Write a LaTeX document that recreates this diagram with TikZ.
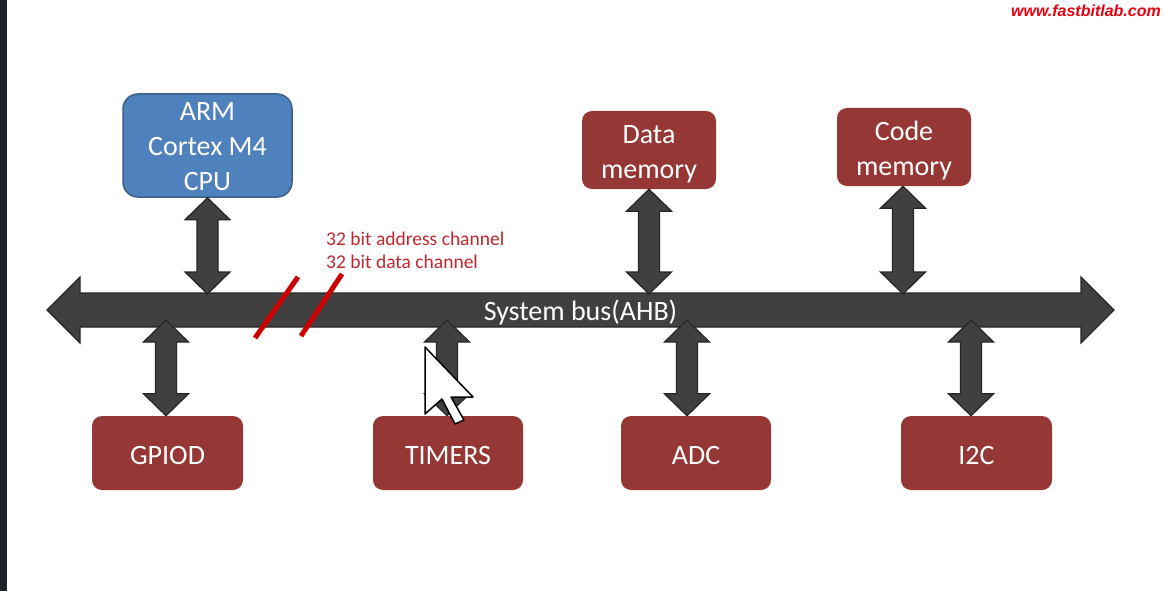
\documentclass[tikz,border=0pt]{standalone}
\usepackage{fontspec}
\setmainfont{Carlito}
\newfontfamily\wmfont{Liberation Sans}
\usetikzlibrary{calc}
\definecolor{boxred}{HTML}{953735}
\definecolor{cpublue}{HTML}{4F81BD}
\definecolor{cpuedge}{HTML}{3A5F8C}
\definecolor{busgray}{HTML}{404040}
\definecolor{busedge}{HTML}{262626}
\definecolor{chanred}{HTML}{C0282E}
\definecolor{slashred}{HTML}{CC0000}
\definecolor{wmred}{HTML}{E8000F}
\definecolor{stripcol}{HTML}{1F2128}
\tikzset{
  boxtext/.style={text=white, font=\fontsize{28}{35}\selectfont, align=center, inner sep=0pt},
  redbox/.style={rectangle, rounded corners=10pt, fill=boxred, inner sep=0pt},
  cpubox/.style={rectangle, rounded corners=15pt, fill=cpublue, draw=cpuedge, line width=1.5pt, inner sep=0pt},
  busshape/.style={fill=busgray, draw=busedge, line width=1.2pt, line join=miter},
  slashline/.style={draw=slashred, line width=5pt},
  chantext/.style={text=chanred, font=\fontsize{19.5}{23}\selectfont, align=left, inner sep=0pt},
}
\newcommand{\dblarrow}[2]{%
  \path[busshape] let \p1=(#1), \p2=(#2) in
  (\x1,\y1) -- (\x1+22.5pt,\y1-22pt) -- (\x1+10.5pt,\y1-22pt) -- (\x1+10.5pt,\y2+22pt)
  -- (\x1+22.5pt,\y2+22pt) -- (\x1,\y2) -- (\x1-22.5pt,\y2+22pt) -- (\x1-10.5pt,\y2+22pt)
  -- (\x1-10.5pt,\y1-22pt) -- (\x1-22.5pt,\y1-22pt) -- cycle;}
\begin{document}
\begin{tikzpicture}[x=1pt,y=-1pt]
\useasboundingbox (0,0) rectangle (1164,591);
\fill[white] (0,0) rectangle (1164,591);
\fill[stripcol] (0,0) rectangle (7,591);

% system bus
\coordinate (busL) at (47,310);
\coordinate (busR) at (1114,310);
\path[busshape] (busL) -- (80,277) -- (80,293) -- (1081,293) -- (1081,277) -- (busR)
  -- (1081,343) -- (1081,327) -- (80,327) -- (80,343) -- cycle;
\coordinate (bustop) at (0,294);
\coordinate (busin) at (0,320);

% blocks
\node[cpubox, minimum width=169pt, minimum height=103pt] (cpu) at (207.5,145.5) {};
\node[redbox, minimum width=134pt, minimum height=78pt] (dmem) at (649,150) {};
\node[redbox, minimum width=134pt, minimum height=78pt] (cmem) at (904,147) {};
\node[redbox, minimum width=151pt, minimum height=74pt] (gpiod) at (167.5,453) {};
\node[redbox, minimum width=150pt, minimum height=74pt] (timers) at (448,453) {};
\node[redbox, minimum width=150pt, minimum height=74pt] (adc) at (696,453) {};
\node[redbox, minimum width=151pt, minimum height=74pt] (i2c) at (976.5,453) {};

\node[boxtext] (cputxt) at ([yshift=-1.5pt]cpu.center) {ARM\\Cortex M4\\CPU};
\node[boxtext] (dmemtxt) at ([yshift=-4pt]dmem.center) {Data\\memory};
\node[boxtext] (cmemtxt) at ([yshift=-4pt]cmem.center) {Code\\memory};
\node[boxtext] (gpiodtxt) at ([yshift=-3pt]gpiod.center) {GPIOD};
\node[boxtext] (timerstxt) at ([yshift=-3pt]timers.center) {TIMERS};
\node[boxtext] (adctxt) at ([yshift=-3pt]adc.center) {ADC};
\node[boxtext] (i2ctxt) at ([yshift=-3pt]i2c.center) {I2C};

\coordinate (gpiodA) at ([xshift=-1.5pt]gpiod.north);
\coordinate (timersA) at ([xshift=-1pt]timers.north);
\coordinate (adcA) at ([xshift=-9pt]adc.north);
\coordinate (i2cA) at ([xshift=-5.5pt]i2c.north);
\coordinate (cmemA) at ([xshift=-1pt]cmem.south);

% connectors
\dblarrow{cpu.south}{cpu.south |- bustop}
\dblarrow{dmem.south}{dmem.south |- bustop}
\dblarrow{cmemA}{cmemA |- bustop}
\dblarrow{gpiodA |- busin}{gpiodA}
\dblarrow{timersA |- busin}{timersA}
\dblarrow{adcA |- busin}{adcA}
\dblarrow{i2cA |- busin}{i2cA}

\node[text=white, font=\fontsize{28}{34}\selectfont, inner sep=0pt] (buslabel) at (580.5,313) {System bus(AHB)};

% bus width marks
\draw[slashline] (298,277) -- (255,338);
\draw[slashline] (342,274) -- (301,336);
\node[chantext, anchor=west] (chan) at (326,250) {32 bit address channel\\32 bit data channel};

% watermark
\node[anchor=east, inner sep=0pt, text=wmred, font=\wmfont\fontsize{16}{16}\selectfont\bfseries\itshape] (wm) at (1161,11) {www.fastbitlab.com};

% mouse pointer
\path[fill=white, draw=black, line width=1.5pt, line join=round] (425,347) -- (425,414) -- (442,399)
  -- (455,424) -- (464,420) -- (451,397) -- (473,397) -- cycle;
\end{tikzpicture}
\end{document}
